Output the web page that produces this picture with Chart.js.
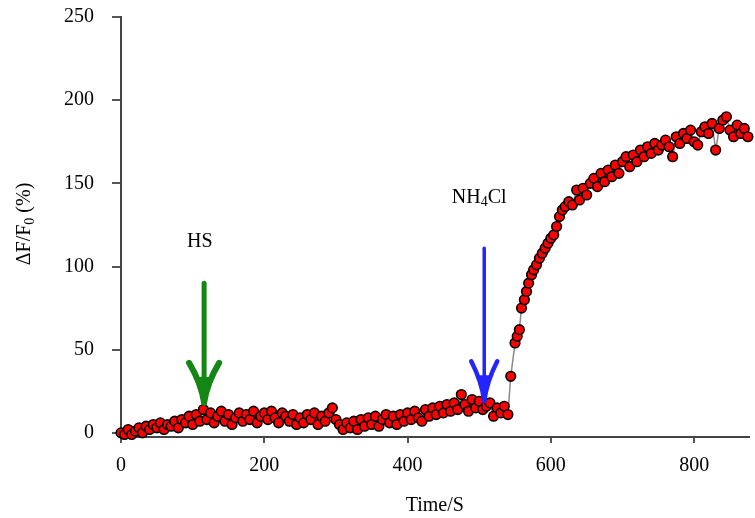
<!DOCTYPE html>
<html>
<head>
<meta charset="utf-8">
<script src="https://cdn.jsdelivr.net/npm/chart.js@4.4.0/dist/chart.umd.min.js"></script>
<style>
  html, body { margin: 0; padding: 0; background: #fff; }
</style>
</head>
<body>
<canvas id="chart" width="755" height="518"></canvas>
<script>
// time in seconds
const times = [
  0, 5, 10, 15, 20, 25, 30, 35, 40, 45, 50, 55, 60, 65, 70, 75, 80, 85, 90, 95,
  100, 105, 110, 115, 120, 125, 130, 135, 140, 145, 150, 155, 160, 165, 170, 175, 180, 185, 190, 195,
  200, 205, 210, 215, 220, 225, 230, 235, 240, 245, 250, 255, 260, 265, 270, 275, 280, 285, 290, 295,
  300, 305, 310, 315, 320, 325, 330, 335, 340, 345, 350, 355, 360, 365, 370, 375, 380, 385, 390, 395,
  400, 405, 410, 415, 420, 425, 430, 435, 440, 445, 450, 455, 460, 465, 470, 475, 480, 485, 490, 495,
  500, 505, 510, 515, 520, 525, 530, 535, 540,
  544, 550, 553, 556, 559, 563, 566, 569, 573, 576, 580, 584, 588, 592, 596, 600, 604, 608, 612, 616,
  620, 625, 630, 636, 640, 645, 650, 655, 660, 665, 670, 675, 680, 685, 690, 695, 700, 705, 710, 715,
  720, 725, 730, 735, 740, 745, 750, 755, 760, 765, 770, 775, 780, 785, 790, 795, 800, 805, 810, 815,
  820, 825, 830, 835, 840, 845, 850, 855, 860, 865, 870, 875
];

// ΔF/F0 (%)
const ratio = [
  0, -1, 2, -1, 1, 3, 0, 4, 2, 5, 3, 6, 2, 5, 4, 7, 3, 8, 6, 10,
  5, 11, 7, 14, 8, 12, 6, 10, 13, 7, 11, 5, 9, 12, 7, 11, 8, 13, 6, 10,
  12, 8, 13, 9, 6, 12, 10, 7, 11, 5, 9, 6, 11, 8, 12, 5, 10, 7, 12, 15,
  8, 5, 2, 6, 3, 7, 2, 8, 4, 9, 5, 10, 4, 8, 11, 6, 10, 5, 11, 7,
  12, 8, 13, 9, 7, 14, 10, 15, 11, 16, 12, 17, 13, 18, 14, 23, 17, 13, 20, 15,
  19, 14, 16, 18, 10, 15, 12, 16, 11,
  34, 54, 58, 62, 75, 80, 85, 90, 95, 98, 101, 105, 108, 111, 114, 117, 119, 124, 130, 134,
  136, 139, 137, 146, 140, 147, 143, 150, 153, 148, 156, 151, 158, 154, 161, 156, 163, 166, 160, 167,
  163, 170, 166, 172, 168, 174, 170, 173, 176, 172, 166, 178, 174, 180, 177, 182, 175, 173, 181, 184,
  180, 186, 170, 183, 188, 190, 182, 178, 185, 180, 183, 178
];

const xTicks = [0, 200, 400, 600, 800];
const yTicks = [0, 50, 100, 150, 200, 250];

// arrows: where the reagent was added
const arrowTimes = [116, 507];
const arrowTops = [90, 111];
const arrowTips = [18, 19];

const SERIF = '"Liberation Serif", "Times New Roman", serif';

// draw text with an optional subscript part, centred on x
function drawParts(ctx, parts, x, y) {
  let total = 0;
  parts.forEach(p => {
    ctx.font = (p.sub ? 14 : 20) + 'px ' + SERIF;
    p.w = ctx.measureText(p.t).width;
    total += p.w;
  });
  let cx = x - total / 2;
  parts.forEach(p => {
    ctx.font = (p.sub ? 14 : 20) + 'px ' + SERIF;
    ctx.fillText(p.t, cx, p.sub ? y + 5 : y);
    cx += p.w;
  });
}

function drawArrow(ctx, px, top, tip, color, shaft, hw, hh) {
  ctx.strokeStyle = color;
  ctx.fillStyle = color;
  ctx.lineCap = 'round';
  ctx.lineWidth = shaft;
  ctx.beginPath();
  ctx.moveTo(px, top);
  ctx.lineTo(px, tip - 4);
  ctx.stroke();
  ctx.lineWidth = shaft + 1;
  ctx.beginPath();
  ctx.moveTo(px - hw, tip - hh);
  ctx.quadraticCurveTo(px - hw * 0.2, tip - hh * 0.5, px, tip);
  ctx.moveTo(px + hw, tip - hh);
  ctx.quadraticCurveTo(px + hw * 0.2, tip - hh * 0.5, px, tip);
  ctx.stroke();
  ctx.beginPath();
  ctx.moveTo(px - 7, tip - 26);
  ctx.lineTo(px + 7, tip - 26);
  ctx.lineTo(px, tip);
  ctx.closePath();
  ctx.fill();
}

const notesPlugin = {
  id: 'notes',
  afterDatasetsDraw(chart) {
    const { ctx, scales: { x, y } } = chart;
    ctx.save();
    const colors = ['#138613', '#2424ff'];
    arrowTimes.forEach((t, i) => {
      const px = x.getPixelForValue(t);
      drawArrow(ctx, px, y.getPixelForValue(arrowTops[i]), y.getPixelForValue(arrowTips[i]),
        colors[i], i === 0 ? 5 : 3.5, i === 0 ? 15 : 13, 40);
    });

    ctx.fillStyle = '#000';
    ctx.textBaseline = 'middle';
    drawParts(ctx, [{ t: 'HS' }], x.getPixelForValue(110), y.getPixelForValue(115));
    drawParts(ctx, [{ t: 'NH' }, { t: '4', sub: true }, { t: 'Cl' }],
      x.getPixelForValue(500), y.getPixelForValue(141.5));

    // y axis title, rotated
    ctx.translate(25, 224);
    ctx.rotate(-Math.PI / 2);
    drawParts(ctx, [{ t: '\u0394F/F' }, { t: '0', sub: true }, { t: ' (%)' }], 0, 0);
    ctx.restore();
  }
};

new Chart(document.getElementById('chart'), {
  type: 'line',
  data: {
    datasets: [{
      data: times.map((t, i) => ({ x: t, y: ratio[i] })),
      borderColor: '#8a8a8a',
      borderWidth: 1.5,
      pointRadius: 4.8,
      pointBackgroundColor: '#ff0000',
      pointBorderColor: '#000',
      pointBorderWidth: 1.6,
      tension: 0,
      clip: false
    }]
  },
  options: {
    responsive: false,
    animation: false,
    events: [],
    layout: { padding: { top: 17, right: 0, bottom: 0, left: 0 } },
    plugins: { legend: { display: false }, tooltip: { enabled: false } },
    scales: {
      x: {
        type: 'linear',
        min: 0,
        max: 876,
        afterBuildTicks: s => { s.ticks = xTicks.map(v => ({ value: v })); },
        afterFit: s => { s.height = 81; s.paddingLeft = 0; s.paddingRight = 0; },
        border: { display: true, color: '#444', width: 2 },
        grid: { drawOnChartArea: false, tickLength: 6, color: '#555', lineWidth: 2 },
        ticks: { color: '#000', padding: 11, maxRotation: 0, font: { family: SERIF, size: 20 } },
        title: { display: true, text: 'Time/S', color: '#000', padding: { top: 0, bottom: 0 },
          font: { family: SERIF, size: 20 } }
      },
      y: {
        min: -2.5,
        max: 250,
        afterBuildTicks: s => { s.ticks = yTicks.map(v => ({ value: v })); },
        afterFit: s => { s.width = 121; s.paddingTop = 0; s.paddingBottom = 0; },
        border: { display: true, color: '#444', width: 2 },
        grid: { drawOnChartArea: false, tickLength: 9, color: '#555', lineWidth: 2 },
        ticks: { color: '#000', padding: 18, font: { family: SERIF, size: 20 } }
      }
    }
  },
  plugins: [notesPlugin]
});
</script>
</body>
</html>
